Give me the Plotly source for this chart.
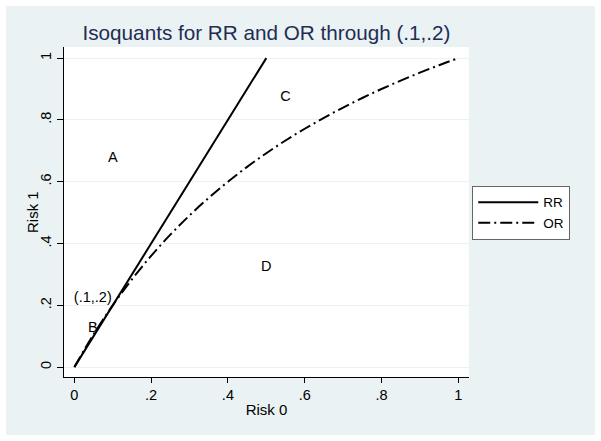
import plotly.graph_objects as go

# Data
rr_x = [0, 0.1, 0.2, 0.3, 0.4, 0.5]
rr_y = [0, 0.2, 0.4, 0.6, 0.8, 1.0]

or_x = [0, 0.05, 0.1, 0.15, 0.2, 0.25, 0.3, 0.35, 0.4, 0.45, 0.5,
        0.55, 0.6, 0.65, 0.7, 0.75, 0.8, 0.85, 0.9, 0.95, 1.0]
or_y = [0, 0.1059, 0.2, 0.2842, 0.36, 0.4286, 0.4909, 0.5478, 0.6, 0.648, 0.6923,
        0.7333, 0.7714, 0.8069, 0.84, 0.871, 0.9, 0.9273, 0.9529, 0.9771, 1.0]

label_text = ["A", "C", "D", "B", "(.1,.2)"]
label_x = [0.1, 0.55, 0.5, 0.048, 0.048]
label_y = [0.675, 0.874, 0.323, 0.126, 0.222]

tick_vals = [0, 0.2, 0.4, 0.6, 0.8, 1]
tick_text = ["0", ".2", ".4", ".6", ".8", "1"]

FONT = "Liberation Sans, Arial, sans-serif"
BG = "#eaf2f3"

W, H = 589, 429  # figure drawn inside a 6px white page border
fig = go.Figure()
fig.add_trace(go.Scatter(x=rr_x, y=rr_y, mode="lines", name="RR",
                         line=dict(color="black", width=2)))
fig.add_trace(go.Scatter(x=or_x, y=or_y, mode="lines", name="OR",
                         line=dict(color="black", width=2, dash="12px,4px,2px,4px", shape="spline")))
fig.add_trace(go.Scatter(x=label_x, y=label_y, mode="text", text=label_text,
                         textfont=dict(family=FONT, size=14.5, color="black"),
                         showlegend=False, hoverinfo="skip"))

fig.update_layout(
    width=W, height=H,
    margin=dict(l=58, r=126, t=41, b=58),
    paper_bgcolor=BG, plot_bgcolor="white",
    font=dict(family=FONT, size=14.5, color="black"),
    title=dict(text="Isoquants for RR and OR through (.1,.2)", x=260.5 / W, xanchor="center",
               y=1 - 27 / H, yanchor="middle",
               font=dict(family=FONT, size=20.7, color="#1e2d53")),
    showlegend=True,
    legend=dict(x=1.008, y=0.579, xanchor="left", yanchor="top",
                bgcolor="white", bordercolor="#666666", borderwidth=1,
                font=dict(family=FONT, size=13.5, color="black"),
                itemwidth=60, tracegroupgap=0),
    annotations=[dict(text="Risk 1", xref="paper", yref="paper", x=-32 / 405, y=0.5,
                      xanchor="center", yanchor="middle", textangle=-90, showarrow=False,
                      font=dict(family=FONT, size=15, color="black"))],
)
fig.update_xaxes(range=[-0.027, 1.028], tickvals=tick_vals, ticktext=tick_text,
                 showgrid=False, zeroline=False, showline=True, linecolor="black", linewidth=1,
                 ticks="outside", ticklen=5, tickcolor="black", tickfont=dict(size=14.5),
                 title=dict(text="Risk 0", standoff=2, font=dict(size=15)))
fig.update_yaxes(range=[-0.032, 1.036], tickvals=tick_vals, ticktext=tick_text, tickangle=-90,
                 showgrid=True, gridcolor=BG, gridwidth=1, zeroline=False,
                 showline=True, linecolor="black", linewidth=1,
                 ticks="outside", ticklen=6, tickcolor="black", tickfont=dict(size=14.5),
                 ticklabelstandoff=0)

post = "document.body.style.margin='6px';document.body.style.background='white';"
fig.write_html("out.html", post_script=post, config={"displayModeBar": False})
